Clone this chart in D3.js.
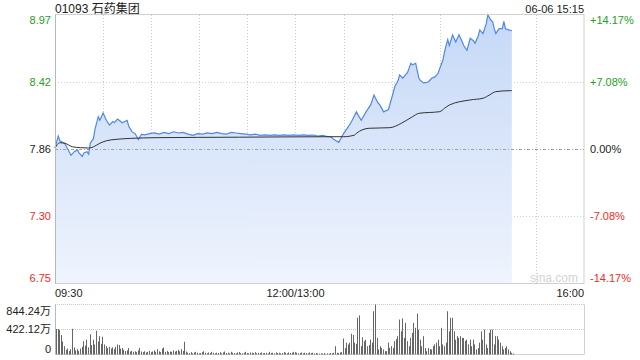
<!DOCTYPE html>
<html><head><meta charset="utf-8">
<script src="https://cdn.jsdelivr.net/npm/d3@7"></script>
<style>
html,body{margin:0;padding:0;background:#fff;}
svg{display:block;}
text{font-family:"Liberation Sans",Arial,"Noto Sans CJK SC",sans-serif;}
</style></head>
<body>
<svg id="c" width="640" height="360"></svg>
<script>
// ---------- data ----------
const title = "01093 石药集团";
const stamp = "06-06 15:15";
const prevClose = 7.86;
const priceTicks = ["8.97", "8.42", "7.86", "7.30", "6.75"];
const pctTicks = ["+14.17%", "+7.08%", "0.00%", "-7.08%", "-14.17%"];
const volTicks = ["844.24万", "422.12万", "0"];
const volMax = 844.24;
const timeLabels = ["09:30", "12:00/13:00", "16:00"];
const timeLabelMinutes = [0, 150, 330];

// minutes since 09:30 (lunch break removed)
const priceMinutes = [0,2,3,5,6,8,10,12,14,15,17,18,20,21,22,24,25,27,28,30,32,34,36,37,39,41,42,45,46,48,50,52,54,56,59,62,65,68,71,74,77,80,83,86,89,92,95,98,101,104,107,110,113,116,119,122,125,128,131,134,137,140,143,146,149,152,155,158,161,164,167,170,172,174,177,180,183,185,188,191,194,197,199,201,203,205,208,210,212,214,215,217,220,222,223,225,227,228,230,232,233,235,237,239,240,242,243,245,246,248,250,252,254,255,257,259,261,262,264,265,267,269,270,272,273,274,275,277,279,280,281,283,285];
const prices = [7.87,7.97,7.93,7.915,7.91,7.86,7.81,7.84,7.855,7.83,7.80,7.83,7.84,7.82,7.91,7.95,8.03,8.13,8.10,8.16,8.10,8.06,8.09,8.08,8.11,8.09,8.08,8.10,8.05,8.006,7.99,7.94,7.984,7.98,7.99,7.995,7.985,8.00,7.99,8.005,7.995,8.00,7.985,7.975,7.99,7.985,7.995,7.99,8.00,7.99,7.985,8.00,7.995,7.99,7.985,7.98,7.985,7.975,7.98,7.975,7.98,7.975,7.98,7.975,7.98,7.975,7.98,7.975,7.978,7.97,7.975,7.965,7.964,7.94,7.917,7.99,8.047,8.09,8.17,8.10,8.17,8.23,8.31,8.255,8.22,8.17,8.19,8.283,8.38,8.43,8.476,8.45,8.50,8.573,8.56,8.573,8.449,8.43,8.41,8.415,8.42,8.449,8.46,8.49,8.53,8.60,8.67,8.77,8.72,8.808,8.75,8.81,8.752,8.72,8.68,8.78,8.76,8.74,8.80,8.85,8.82,8.90,8.974,8.93,8.92,8.86,8.82,8.86,8.86,8.92,8.86,8.85,8.843];

const avgMinutes = [0,3,6,11,16,21,24,28,32,38,47,63,115,172,180,187,188,196,209,216,223,227,240,243,246,259,267,271,275,284,285];
const avgPrices = [7.87,7.914,7.91,7.88,7.873,7.87,7.88,7.91,7.93,7.942,7.95,7.956,7.96,7.964,7.964,7.978,7.992,8.034,8.039,8.075,8.13,8.158,8.172,8.20,8.227,8.269,8.283,8.31,8.338,8.346,8.346];

// volume per minute (万), index = minute since 09:30
const volumes = [
430,430,410,330,220,140,80,100,60,90,
433,120,70,90,60,100,130,225,150,250,
120,340,160,250,170,400,220,310,180,300,
170,140,110,130,100,120,90,130,170,160,
100,110,80,60,70,110,50,60,45,55,
40,70,110,50,40,55,35,45,60,40,
50,70,45,90,55,40,100,120,45,60,
40,50,45,70,50,60,80,55,90,60,
215,50,30,25,40,20,35,45,30,20,
25,40,55,30,20,35,25,45,30,20,
30,25,40,20,35,50,25,30,20,45,
30,25,20,35,40,25,20,30,45,25,
20,35,30,25,40,20,30,25,35,20,
25,30,20,45,25,30,20,35,25,30,
20,25,40,30,20,35,25,30,45,40,
30,20,25,35,20,30,25,20,35,25,
30,20,25,20,15,20,15,25,10,20,
15,25,20,30,
140,30,25,35,40,270,110,200,170,200,
350,330,200,180,620,660,140,290,225,250,
140,160,250,200,730,844,280,85,140,110,
85,56,56,200,110,140,110,225,260,310,
590,390,610,280,535,225,140,280,365,535,
450,690,420,250,140,310,110,56,110,90,
85,140,170,200,250,140,450,170,140,200,
730,390,620,620,390,250,310,280,310,280,
280,230,250,170,250,140,250,170,85,110,
200,390,250,420,170,110,365,420,420,170,
310,310,250,200,140,85,110,140,85,56,
28,17];

// ---------- layout ----------
const L = 55, R = 584, T = 15, B = 283.5;
const VT = 304.5, VB = 354.5;
const green = "#22a022", red = "#ee2a2a", dark = "#222";
const svg = d3.select("#c");

const yMax = prevClose * 1.1417, yMin = prevClose * (1 - 0.1417);
const x = d3.scaleLinear().domain([0, 330]).range([L, R]);
const y = d3.scaleLinear().domain([yMin, yMax]).range([B, T]);
const yv = d3.scaleLinear().domain([0, volMax]).range([VB, VT]);

const defs = svg.append("defs");
const grad = defs.append("linearGradient").attr("id", "g")
  .attr("gradientUnits", "userSpaceOnUse").attr("x1", 0).attr("x2", 0).attr("y1", T).attr("y2", B);
grad.append("stop").attr("offset", "0").attr("stop-color", "#c5d8f7");
grad.append("stop").attr("offset", "1").attr("stop-color", "#eff4fd");

// grid
const tickVals = d3.range(5).map(i => yMax - i * (yMax - yMin) / 4);
svg.append("g").selectAll("line").data(d3.range(1, 11)).join("line")
  .attr("x1", d => Math.round(x(d * 30)) + 0.5).attr("x2", d => Math.round(x(d * 30)) + 0.5)
  .attr("y1", T).attr("y2", B)
  .attr("stroke", "#cfcfcf").attr("stroke-dasharray", "1,2");
svg.append("g").selectAll("line").data([1, 3]).join("line")
  .attr("x1", L).attr("x2", R)
  .attr("y1", i => Math.round(y(tickVals[i])) + 0.5).attr("y2", i => Math.round(y(tickVals[i])) + 0.5)
  .attr("stroke", "#cfcfcf").attr("stroke-dasharray", "1,2");

// area + lines
const pts = priceMinutes.map((m, i) => [m, prices[i]]);
svg.append("path").datum(pts)
  .attr("d", d3.area().x(d => x(d[0])).y0(B).y1(d => y(d[1])))
  .attr("fill", "url(#g)");
svg.append("line").attr("x1", L).attr("x2", R)
  .attr("y1", Math.round(y(prevClose)) + 0.5).attr("y2", Math.round(y(prevClose)) + 0.5)
  .attr("stroke", "#a0a0a0").attr("stroke-dasharray", "3,2,1,2");
svg.append("path").datum(pts)
  .attr("d", d3.line().x(d => x(d[0])).y(d => y(d[1])))
  .attr("fill", "none").attr("stroke", "#4f88e8").attr("stroke-width", 1.2);
const apts = avgMinutes.map((m, i) => [m, avgPrices[i]]);
svg.append("path").datum(apts)
  .attr("d", d3.line().curve(d3.curveMonotoneX).x(d => x(d[0])).y(d => y(d[1])))
  .attr("fill", "none").attr("stroke", "#333").attr("stroke-width", 1);

// frame
svg.append("rect").attr("x", L + 0.5).attr("y", T - 0.5).attr("width", R - L - 0.5).attr("height", B - T + 0.5)
  .attr("fill", "none").attr("stroke", "#d0d0d0");
svg.append("line").attr("x1", L + 0.5).attr("x2", L + 0.5).attr("y1", T - 0.5).attr("y2", B)
  .attr("stroke", "#b8b8b8");

// watermark
svg.append("text").attr("x", 578).attr("y", 282).attr("text-anchor", "end")
  .attr("font-size", 12).attr("fill", "#d3d3d3").text("sina.com");

// axis labels
const colorFor = i => i < 2 ? green : (i === 2 ? dark : red);
const labelY = i => i === 0 ? T + 5 : (i === 4 ? B - 5 : y(tickVals[i]));
svg.append("g").selectAll("text").data(priceTicks).join("text")
  .attr("x", 51).attr("y", (d, i) => labelY(i)).attr("dy", "0.35em")
  .attr("text-anchor", "end").attr("font-size", 11).attr("fill", (d, i) => colorFor(i)).text(d => d);
svg.append("g").selectAll("text").data(pctTicks).join("text")
  .attr("x", 590).attr("y", (d, i) => labelY(i)).attr("dy", "0.35em")
  .attr("font-size", 11).attr("fill", (d, i) => colorFor(i)).text(d => d);

svg.append("text").attr("x", L).attr("y", 12.5).attr("font-size", 12).attr("fill", dark).text(title);
svg.append("text").attr("x", R).attr("y", 12.5).attr("text-anchor", "end").attr("font-size", 11).attr("fill", dark).text(stamp);

svg.append("g").selectAll("text").data(timeLabels).join("text")
  .attr("x", (d, i) => x(timeLabelMinutes[i])).attr("y", 293).attr("dy", "0.35em")
  .attr("text-anchor", (d, i) => i === 0 ? "start" : (i === 1 ? "middle" : "end"))
  .attr("font-size", 11).attr("fill", dark).text(d => d);

// volume panel
svg.append("g").selectAll("line").data([VT, (VT + VB) / 2]).join("line")
  .attr("x1", L).attr("x2", R).attr("y1", d => d).attr("y2", d => d)
  .attr("stroke", "#c8c8c8").attr("stroke-dasharray", "1,1");
svg.append("line").attr("x1", L + 0.5).attr("x2", L + 0.5).attr("y1", VT).attr("y2", VB).attr("stroke", "#b8b8b8");
svg.append("line").attr("x1", R + 0.5).attr("x2", R + 0.5).attr("y1", VT).attr("y2", VB).attr("stroke", "#d0d0d0");
svg.append("line").attr("x1", L).attr("x2", R).attr("y1", VB).attr("y2", VB).attr("stroke", "#d0d0d0");
svg.append("g").selectAll("rect").data(volumes).join("rect")
  .attr("x", (d, i) => Math.round(x(i)) + 1).attr("width", 1)
  .attr("y", d => yv(d)).attr("height", d => VB - yv(d))
  .attr("fill", "#666");
const vLabelY = [VT + 7, (VT + VB) / 2, VB - 5];
svg.append("g").selectAll("text").data(volTicks).join("text")
  .attr("x", 51).attr("y", (d, i) => vLabelY[i]).attr("dy", "0.35em")
  .attr("text-anchor", "end").attr("font-size", 11).attr("fill", dark).text(d => d);
</script>
</body></html>
